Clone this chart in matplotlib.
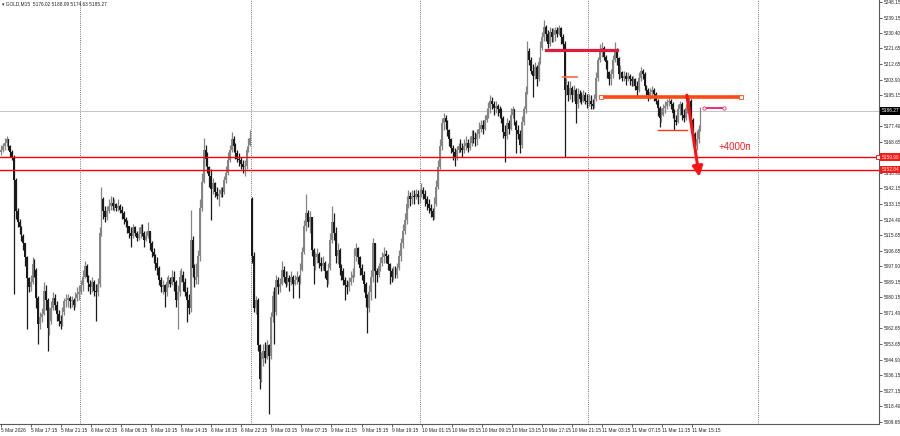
import numpy as np
import matplotlib
matplotlib.use("Agg")
import matplotlib.pyplot as plt
import matplotlib.transforms as mtransforms

plt.rcParams['font.family'] = ['Liberation Sans', 'DejaVu Sans']

# GOLD M15 candles (5 Mar 13:15 .. 11 Mar 15:30), prices
first_open = 5163
gap_opens = {135: 5136}  # weekend gap on Monday open

closes = [
    # 5 Mar
    5164, 5166, 5168, 5170, 5166, 5163, 5160, 5147, 5129, 5123, 5120, 5115, 5111, 5103, 5091,
    5086, 5089, 5099, 5096, 5080, 5065, 5069, 5071, 5084, 5079, 5063, 5067, 5074, 5080, 5076,
    5071, 5067, 5065, 5072, 5078, 5079, 5080, 5078, 5079, 5076, 5080, 5082, 5083,
    # 6 Mar
    5087, 5092, 5098, 5092, 5088, 5086, 5089, 5084, 5083, 5088, 5117, 5136, 5129, 5126, 5129,
    5132, 5134, 5132, 5133, 5131, 5132, 5130, 5128, 5125, 5123, 5121, 5117, 5115, 5120, 5117,
    5114, 5116, 5120, 5117, 5113, 5115, 5118, 5111, 5106, 5104, 5100, 5097, 5090, 5086, 5087,
    5083, 5089, 5090, 5088, 5092, 5089, 5079, 5083, 5092, 5093, 5089, 5083, 5079, 5074, 5113,
    5097, 5090, 5092, 5104, 5131, 5146, 5164, 5159, 5154, 5149, 5142, 5145, 5140, 5138, 5139,
    5141, 5140, 5147, 5151, 5158, 5164, 5170, 5166, 5162, 5159, 5158, 5156, 5154, 5155, 5164,
    5167, 5171,
    # 9 Mar
    5104, 5074, 5079, 5053, 5034, 5045, 5050, 5046, 5053, 5047, 5069, 5081, 5072, 5090, 5086,
    5088, 5096, 5092, 5088, 5091, 5089, 5092, 5088, 5090, 5092, 5089, 5096, 5106, 5121, 5128,
    5123, 5126, 5107, 5098, 5103, 5105, 5100, 5098, 5100, 5095, 5090, 5097, 5113, 5123, 5117,
    5104, 5107, 5097, 5095, 5090, 5087, 5086, 5089, 5091, 5093, 5104, 5108, 5103, 5097, 5093,
    5088, 5080, 5074, 5083, 5092, 5111, 5095, 5093, 5098, 5100, 5103, 5105, 5104, 5099, 5095,
    5092, 5096, 5093, 5097, 5104, 5111, 5118, 5124, 5133, 5138, 5136, 5138, 5137, 5139, 5137,
    5138,
    # 10 Mar
    5141, 5139, 5136, 5133, 5131, 5129, 5126, 5133, 5143, 5154, 5166, 5179, 5182, 5180, 5175,
    5170, 5165, 5163, 5160, 5164, 5166, 5165, 5164, 5166, 5168, 5165, 5168, 5172, 5171, 5170,
    5173, 5176, 5178, 5176, 5181, 5184, 5188, 5192, 5190, 5188, 5189, 5187, 5185, 5182, 5174,
    5172, 5179, 5176, 5184, 5187, 5180, 5175, 5173, 5167, 5180, 5187, 5197, 5220, 5215, 5209,
    5206, 5211, 5204, 5214, 5222, 5228, 5234, 5230, 5224, 5231, 5228, 5229, 5232, 5230, 5233,
    5228, 5224, 5198, 5201, 5195, 5199, 5195, 5198, 5190, 5196, 5193, 5192, 5195, 5192, 5191,
    5192,
    # 11 Mar
    5190, 5189, 5193, 5205, 5215, 5221, 5222, 5217, 5214, 5208, 5204, 5207, 5215, 5221, 5216,
    5207, 5208, 5205, 5206, 5204, 5206, 5204, 5203, 5204, 5200, 5198, 5205, 5209, 5207, 5200,
    5198, 5195, 5197, 5198, 5196, 5192, 5188, 5182, 5184, 5188, 5189, 5191, 5192, 5190, 5185,
    5181, 5180, 5187, 5190, 5184, 5182, 5188, 5191, 5192, 5181, 5173, 5166, 5170, 5176.02, 5185.27,
]

highs = [
    5167, 5168, 5171, 5172, 5170, 5167, 5164, 5161, 5148, 5131, 5125, 5121, 5116, 5111, 5104,
    5092, 5093, 5103, 5102, 5097, 5081, 5072, 5074, 5089, 5087, 5080, 5075, 5078, 5083, 5082,
    5078, 5073, 5070, 5075, 5080, 5082, 5082, 5081, 5081, 5080, 5083, 5086, 5087,
    5090, 5096, 5101, 5099, 5093, 5090, 5092, 5090, 5088, 5091, 5120, 5143, 5137, 5132, 5132,
    5136, 5138, 5137, 5136, 5134, 5136, 5133, 5132, 5129, 5126, 5124, 5121, 5120, 5122, 5121,
    5118, 5120, 5122, 5122, 5118, 5118, 5123, 5118, 5112, 5108, 5105, 5103, 5098, 5092, 5090,
    5088, 5092, 5093, 5092, 5096, 5095, 5090, 5087, 5096, 5097, 5095, 5091, 5086, 5082, 5130,
    5115, 5099, 5100, 5107, 5136, 5151, 5171, 5167, 5163, 5155, 5153, 5148, 5146, 5143, 5142,
    5143, 5143, 5149, 5155, 5163, 5167, 5174, 5172, 5168, 5164, 5162, 5160, 5158, 5158, 5166,
    5171, 5175,
    5137, 5106, 5081, 5080, 5054, 5049, 5054, 5055, 5056, 5054, 5072, 5084, 5086, 5093, 5092,
    5091, 5101, 5098, 5095, 5095, 5093, 5095, 5093, 5093, 5095, 5093, 5100, 5109, 5124, 5139,
    5130, 5129, 5126, 5108, 5106, 5108, 5106, 5103, 5104, 5101, 5096, 5100, 5117, 5132, 5128,
    5120, 5111, 5108, 5099, 5097, 5092, 5090, 5092, 5095, 5097, 5108, 5111, 5109, 5104, 5099,
    5095, 5089, 5082, 5087, 5096, 5114, 5111, 5097, 5100, 5103, 5106, 5109, 5107, 5105, 5100,
    5097, 5098, 5098, 5100, 5107, 5114, 5122, 5128, 5138, 5141, 5140, 5141, 5141, 5142, 5141,
    5142,
    5145, 5143, 5141, 5138, 5136, 5133, 5131, 5137, 5147, 5158, 5170, 5182, 5185, 5184, 5181,
    5176, 5171, 5167, 5165, 5166, 5168, 5170, 5168, 5170, 5172, 5170, 5172, 5175, 5175, 5174,
    5176, 5180, 5181, 5181, 5184, 5188, 5191, 5195, 5194, 5192, 5192, 5190, 5189, 5188, 5183,
    5178, 5182, 5181, 5188, 5189, 5187, 5181, 5178, 5175, 5183, 5189, 5200, 5226, 5222, 5217,
    5213, 5214, 5212, 5217, 5226, 5231, 5238, 5235, 5232, 5234, 5233, 5233, 5234, 5234, 5235,
    5234, 5230, 5226, 5205, 5203, 5203, 5200, 5201, 5199, 5199, 5198, 5197, 5198, 5197, 5196,
    5196,
    5195, 5193, 5196, 5208, 5217, 5224, 5225, 5223, 5218, 5215, 5209, 5210, 5218, 5225, 5222,
    5217, 5212, 5209, 5209, 5208, 5208, 5207, 5206, 5206, 5205, 5203, 5208, 5211, 5210, 5208,
    5201, 5199, 5199, 5200, 5199, 5197, 5193, 5189, 5188, 5190, 5192, 5193, 5195, 5193, 5191,
    5187, 5184, 5190, 5192, 5191, 5187, 5190, 5194, 5195, 5193, 5182, 5174, 5175, 5178, 5188.09,
]

lows = [
    5161, 5163, 5164, 5166, 5164, 5160, 5158, 5082, 5125, 5120, 5116, 5112, 5107, 5098, 5062,
    5083, 5084, 5088, 5092, 5074, 5054, 5062, 5066, 5070, 5073, 5050, 5059, 5065, 5073, 5073,
    5067, 5064, 5062, 5064, 5070, 5075, 5075, 5074, 5075, 5073, 5075, 5078, 5079,
    5082, 5084, 5091, 5089, 5084, 5082, 5083, 5081, 5067, 5081, 5086, 5115, 5125, 5123, 5124,
    5128, 5130, 5130, 5129, 5129, 5129, 5128, 5125, 5122, 5120, 5117, 5114, 5109, 5114, 5115,
    5112, 5113, 5114, 5115, 5109, 5112, 5114, 5107, 5103, 5100, 5096, 5093, 5087, 5083, 5082,
    5075, 5081, 5086, 5086, 5087, 5084, 5075, 5062, 5081, 5089, 5084, 5081, 5066, 5071, 5072,
    5092, 5086, 5088, 5088, 5101, 5129, 5145, 5155, 5151, 5143, 5124, 5139, 5137, 5136, 5132,
    5137, 5137, 5139, 5145, 5150, 5157, 5163, 5163, 5159, 5157, 5155, 5153, 5151, 5149, 5153,
    5163, 5166,
    5100, 5072, 5071, 5050, 5028, 5032, 5041, 5043, 5045, 5014, 5045, 5066, 5054, 5070, 5082,
    5083, 5087, 5089, 5086, 5087, 5084, 5087, 5080, 5087, 5088, 5080, 5088, 5095, 5105, 5118,
    5120, 5117, 5104, 5088, 5096, 5100, 5097, 5095, 5096, 5091, 5086, 5088, 5096, 5111, 5113,
    5100, 5099, 5093, 5090, 5087, 5079, 5082, 5084, 5087, 5089, 5092, 5101, 5099, 5093, 5090,
    5083, 5075, 5060, 5072, 5079, 5089, 5080, 5089, 5092, 5095, 5098, 5100, 5100, 5096, 5088,
    5089, 5090, 5091, 5091, 5096, 5101, 5108, 5116, 5122, 5131, 5132, 5133, 5133, 5136, 5133,
    5134,
    5137, 5136, 5132, 5130, 5128, 5126, 5124, 5125, 5132, 5142, 5153, 5164, 5175, 5176, 5172,
    5166, 5162, 5158, 5155, 5158, 5162, 5163, 5160, 5162, 5164, 5163, 5164, 5166, 5168, 5166,
    5167, 5171, 5174, 5173, 5175, 5180, 5182, 5185, 5187, 5184, 5185, 5183, 5182, 5179, 5171,
    5157, 5170, 5173, 5175, 5182, 5178, 5162, 5170, 5162, 5165, 5178, 5185, 5196, 5212, 5207,
    5194, 5204, 5200, 5203, 5213, 5221, 5226, 5226, 5222, 5223, 5225, 5225, 5226, 5228, 5229,
    5224, 5221, 5160, 5195, 5192, 5193, 5191, 5192, 5179, 5188, 5191, 5190, 5191, 5190, 5188,
    5189,
    5187, 5187, 5188, 5192, 5203, 5214, 5217, 5215, 5210, 5205, 5201, 5201, 5205, 5214, 5212,
    5204, 5205, 5203, 5203, 5201, 5203, 5201, 5200, 5200, 5198, 5194, 5197, 5203, 5204, 5198,
    5195, 5192, 5193, 5195, 5192, 5190, 5183, 5177, 5180, 5183, 5185, 5187, 5189, 5187, 5182,
    5175, 5178, 5179, 5184, 5181, 5180, 5181, 5185, 5189, 5179, 5170, 5162, 5164, 5168, 5174.63,
]

# right price scale
price_ticks = [5248.15, 5239.15, 5230.40, 5221.65, 5212.65, 5203.90, 5195.15, 5177.40,
               5168.65, 5150.90, 5142.15, 5133.15, 5124.40, 5115.65, 5106.65, 5097.90,
               5089.15, 5080.15, 5071.40, 5062.65, 5053.65, 5044.90, 5036.15, 5027.15,
               5018.40, 5009.65]
bid_price = 5186.27
level_high = 5159.90
level_low = 5152.84

time_labels = ["5 Mar 2026", "5 Mar 17:15", "5 Mar 21:15", "6 Mar 02:15", "6 Mar 06:15",
               "6 Mar 10:15", "6 Mar 14:15", "6 Mar 18:15", "6 Mar 22:15", "9 Mar 03:15",
               "9 Mar 07:15", "9 Mar 11:15", "9 Mar 15:15", "9 Mar 19:15", "10 Mar 01:15",
               "10 Mar 05:15", "10 Mar 09:15", "10 Mar 13:15", "10 Mar 17:15", "10 Mar 21:15",
               "11 Mar 03:15", "11 Mar 07:15", "11 Mar 11:15", "11 Mar 15:15"]

closes = np.array(closes, dtype=float)
highs = np.array(highs, dtype=float)
lows = np.array(lows, dtype=float)
opens = np.concatenate([[first_open], closes[:-1]])
for k, v in gap_opens.items():
    opens[k] = v
n = len(closes)
x = np.arange(n)
highs = np.maximum(highs, np.maximum(opens, closes))
lows = np.minimum(lows, np.minimum(opens, closes))

fig = plt.figure(figsize=(9, 4.36), dpi=100, facecolor="white")
ax = fig.add_axes([0, 12 / 436, 879 / 900, 424 / 436])
ax.set_facecolor("white")

up = closes >= opens
col = np.where(up, "#858585", "#1a1a1a")
ax.vlines(x, lows, highs, colors=col, lw=0.9, zorder=2)
body_lo = np.minimum(opens, closes)
body_h = np.maximum(np.abs(closes - opens), 0.5)
ax.bar(x, body_h, bottom=body_lo, width=0.92, color=col, lw=0, zorder=3)

# day separators
for d in [42.5, 134.5, 225.5, 315.5, 407]:
    ax.axvline(d, color="#444444", lw=0.6, ls=(0, (1, 1.6)), zorder=1)

# horizontal levels
ax.axhline(bid_price, color="#c4c4c4", lw=0.7, zorder=1)
ax.axhline(level_high, color="#ff0000", lw=1.0, zorder=4)
ax.axhline(level_low, color="#ff0000", lw=1.0, zorder=4)
ax.plot([471.2], [level_high], marker="s", ms=2.5, mfc="white", mec="#ff0000", mew=0.6,
        zorder=5, clip_on=False)

# drawn objects
ax.plot([292.9, 331.3], [5220.7, 5220.7], color="#dc1e3c", lw=2.3, zorder=5)
ax.plot([302.3, 309.5], [5205.5, 5205.5], color="#ff6a40", lw=1.2, zorder=5)
ax.plot([322.6, 397.7], [5193.8, 5193.8], color="#ff4a12", lw=2.6, zorder=5,
        marker="s", ms=2.6, mfc="white", mec="#ff4a12", mew=0.6)
ax.plot([378.0, 388.7], [5187.6, 5187.6], color="#e6336a", lw=1.4, zorder=5,
        marker="o", ms=2.4, mfc="white", mec="#e6336a", mew=0.6)
ax.plot([353.2, 368.6], [5175.3, 5175.3], color="#ff3a1a", lw=1.0, zorder=5)
ax.annotate("", xy=(375.4, 5148.7), xytext=(368.7, 5195.1),
            arrowprops=dict(arrowstyle="-|>,head_length=0.6,head_width=0.3",
                            color="#ff1010", lw=2.2, shrinkA=0, shrinkB=0), zorder=6)
ax.text(385.5, 5165.6, "+4000п", color="#ff2020", fontsize=7, va="center", ha="left",
        zorder=6)

ax.set_xlim(-0.54, 472.0)
ax.set_ylim(5008.3, 5249.12)

for s in ["left", "top"]:
    ax.spines[s].set_visible(False)
for s in ["right", "bottom"]:
    ax.spines[s].set_color("#5a5a5a")
    ax.spines[s].set_linewidth(0.8)

ax.yaxis.tick_right()
ax.set_yticks(price_ticks)
ax.set_yticklabels([f"{p:.2f}" for p in price_ticks])
ax.tick_params(axis="y", labelsize=3.4, length=2, width=0.5, pad=1.2, colors="#222222")

label_pos = np.arange(len(time_labels)) * 16.15
ax.set_xticks(label_pos)
ax.set_xticklabels(time_labels, ha="left")
ax.tick_params(axis="x", labelsize=3.5, length=2, width=0.5, pad=1.2, colors="#222222")

# price boxes on the scale
trans = mtransforms.blended_transform_factory(ax.transAxes, ax.transData)
ax.text(1.003, bid_price, f"{bid_price:.2f}", transform=trans, fontsize=3.4, color="white",
        va="center", ha="left", zorder=7,
        bbox=dict(boxstyle="square,pad=0.3", fc="black", ec="black", lw=0))
for lvl in [level_high, level_low]:
    ax.text(1.003, lvl, f"{lvl:.2f}", transform=trans, fontsize=3.4, color="white",
            va="center", ha="left", zorder=7,
            bbox=dict(boxstyle="square,pad=0.3", fc="#ff1a1a", ec="#ff1a1a", lw=0))

fig.text(2 / 900, 1 - 4 / 436, "\u25be GOLD,M15  5176.02 5188.09 5174.63 5185.27",
         fontsize=3.4, va="center", ha="left", color="#222222")

fig.savefig("out.png", dpi=100, facecolor="white")
